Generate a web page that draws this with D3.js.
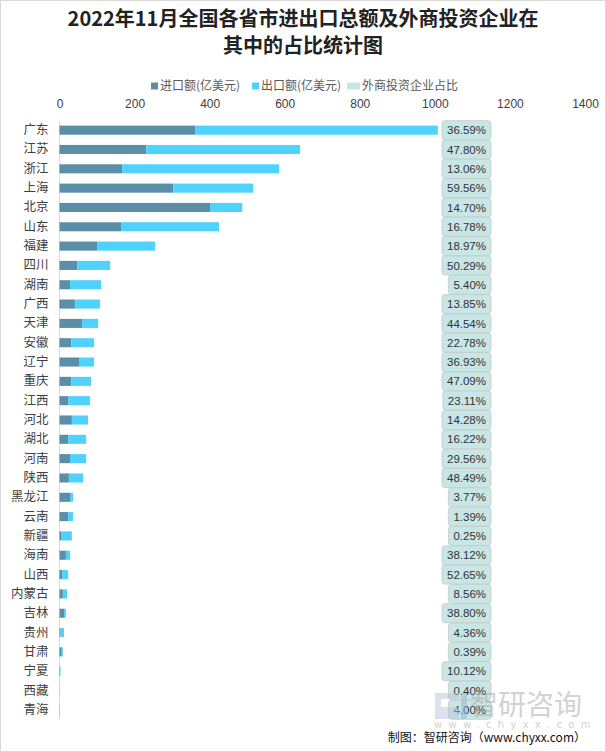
<!DOCTYPE html>
<html>
<head>
<meta charset="utf-8">
<script src="https://cdn.jsdelivr.net/npm/d3@7"></script>
<style>
    body { margin: 0; background: #fff; }
    svg { display: block; }
</style>
</head>
<body>
<svg id="chart" width="606" height="752"></svg>
<script>
// data
const provinces = ["广东", "江苏", "浙江", "上海", "北京", "山东", "福建", "四川", "湖南", "广西",
    "天津", "安徽", "辽宁", "重庆", "江西", "河北", "湖北", "河南", "陕西", "黑龙江",
    "云南", "新疆", "海南", "山西", "内蒙古", "吉林", "贵州", "甘肃", "宁夏", "西藏", "青海"];
const imports = [361, 231, 167, 303, 401, 164, 100, 47, 28, 41,
    60, 31, 52, 31, 23, 33, 23, 28, 25, 28,
    23, 4, 17, 7, 9, 12, 3, 6, 1, 0.3, 0.5];
const exports = [647, 410, 418, 213, 86, 261, 155, 88, 83, 67,
    43, 61, 40, 53, 58, 43, 48, 43, 38, 8,
    13, 29, 11, 16, 11, 5, 9, 3, 2, 0.2, 0.3];
const shares = [36.59, 47.80, 13.06, 59.56, 14.70, 16.78, 18.97, 50.29, 5.40, 13.85,
    44.54, 22.78, 36.93, 47.09, 23.11, 14.28, 16.22, 29.56, 48.49, 3.77,
    1.39, 0.25, 38.12, 52.65, 8.56, 38.80, 4.36, 0.39, 10.12, 0.40, 4.00];
const xTicks = [0, 200, 400, 600, 800, 1000, 1200, 1400];
const legendNames = ["进口额(亿美元)", "出口额(亿美元)", "外商投资企业占比"];

const colors = { imp: "#5b8fa8", exp: "#4fd2fd", share: "#c8e6e6" };
const cjk = "'Noto Sans CJK SC', 'Noto Sans', sans-serif";

// plot area
const plot = { left: 59.5, right: 585, top: 120.5, bottom: 719.5 };

const svg = d3.select("#chart");

// outer border
svg.append("rect")
    .attr("x", 0.5).attr("y", 0.5)
    .attr("width", 605).attr("height", 751)
    .attr("fill", "none")
    .attr("stroke", "#d9d9d9");

// title
svg.append("text")
    .attr("x", 303)
    .attr("text-anchor", "middle")
    .style("font-family", cjk)
    .style("font-weight", "bold")
    .style("font-size", "20px")
    .attr("fill", "#222")
    .selectAll("tspan")
    .data(["2022年11月全国各省市进出口总额及外商投资企业在", "其中的占比统计图"])
    .join("tspan")
    .attr("x", 303)
    .attr("y", (d, i) => 26 + i * 27)
    .text(d => d);

// scales
const x = d3.scaleLinear()
    .domain([0, 1400])
    .range([plot.left, plot.right]);

const y = d3.scaleBand()
    .domain(provinces)
    .range([plot.top, plot.bottom])
    .paddingInner(0.53)
    .paddingOuter(0.265);

// legend
const legendItems = [
    { name: legendNames[0], color: colors.imp, x: 151, w: 7 },
    { name: legendNames[1], color: colors.exp, x: 252, w: 7 },
    { name: legendNames[2], color: colors.share, x: 347, w: 13 }
];
const legend = svg.append("g");
legend.selectAll("rect")
    .data(legendItems)
    .join("rect")
    .attr("x", d => d.x)
    .attr("y", 82.5)
    .attr("width", d => d.w)
    .attr("height", 7)
    .attr("fill", d => d.color);
legend.selectAll("text")
    .data(legendItems)
    .join("text")
    .attr("x", d => d.x + d.w + 2)
    .attr("y", 86)
    .attr("dy", "0.35em")
    .style("font-family", cjk)
    .style("font-size", "12px")
    .attr("fill", "#595959")
    .text(d => d.name);

// x axis (top)
const xAxis = svg.append("g")
    .attr("transform", `translate(0,${plot.top})`)
    .call(d3.axisTop(x).tickValues(xTicks).tickFormat(d3.format("d")).tickSize(0).tickPadding(13));
xAxis.select(".domain").remove();
xAxis.selectAll("text")
    .style("font-family", "'Liberation Sans', Arial, sans-serif")
    .style("font-size", "12px")
    .attr("fill", "#404040");

// y axis
const yAxis = svg.append("g")
    .attr("transform", `translate(${plot.left},0)`)
    .call(d3.axisLeft(y).tickSize(0).tickPadding(11));
yAxis.select(".domain")
    .attr("stroke", "#d9d9d9")
    .attr("d", `M0,${plot.top}V${plot.bottom}`);
yAxis.selectAll("text")
    .style("font-family", cjk)
    .style("font-size", "12.5px")
    .attr("fill", "#404040");

// stacked bars
const rows = provinces.map((p, i) => ({ p, imp: imports[i], exp: exports[i], share: shares[i] }));

svg.append("g")
    .selectAll("rect")
    .data(rows)
    .join("rect")
    .attr("x", x(0))
    .attr("y", d => y(d.p))
    .attr("width", d => x(d.imp) - x(0))
    .attr("height", y.bandwidth())
    .attr("fill", colors.imp);

svg.append("g")
    .selectAll("rect")
    .data(rows)
    .join("rect")
    .attr("x", d => x(d.imp))
    .attr("y", d => y(d.p))
    .attr("width", d => x(d.imp + d.exp) - x(d.imp))
    .attr("height", y.bandwidth())
    .attr("fill", colors.exp);

// share labels in boxes
const labelRight = 486;
const labels = svg.append("g")
    .selectAll("g")
    .data(rows)
    .join("g")
    .attr("transform", d => `translate(0,${y(d.p) + y.bandwidth() / 2})`);

const boxes = labels.append("rect");
const labelText = labels.append("text")
    .attr("x", labelRight)
    .attr("dy", "0.36em")
    .attr("text-anchor", "end")
    .style("font-family", "'Liberation Sans', Arial, sans-serif")
    .style("font-size", "11.5px")
    .attr("fill", "#333")
    .text(d => d.share.toFixed(2) + "%");

labelText.each(function () {
    const w = this.getComputedTextLength();
    d3.select(this.previousSibling)
        .attr("x", labelRight - w - 5)
        .attr("y", -9.5)
        .attr("width", w + 10)
        .attr("height", 19)
        .attr("rx", 3)
        .attr("fill", colors.share)
        .attr("stroke", "#c8c8c8")
        .attr("stroke-width", 0.8);
});

// watermark
const wm = svg.append("g").attr("opacity", 0.5);
wm.append("path")
    .attr("d", "M435,693h24v6h-18v8h18v12h-24zM447,709h6v4h6v6h-12z")
    .attr("fill", "#b9c6dc");
wm.append("path")
    .attr("d", "M461,693h6v26h-6z")
    .attr("fill", "#9fb3d1");
wm.append("text")
    .attr("x", 470)
    .attr("y", 715)
    .style("font-family", cjk)
    .style("font-size", "28px")
    .attr("fill", "#a6a6a6")
    .text("智研咨询");
wm.append("text")
    .attr("x", 434)
    .attr("y", 728)
    .style("font-family", "'DejaVu Sans', sans-serif")
    .style("font-size", "10px")
    .style("letter-spacing", "6.3px")
    .attr("fill", "#a6a6a6")
    .text("www.chyxx.com");

// source
svg.append("text")
    .attr("x", 586)
    .attr("y", 742)
    .attr("text-anchor", "end")
    .style("font-family", cjk)
    .style("font-size", "12px")
    .attr("fill", "#111")
    .text("制图：智研咨询（www.chyxx.com）");
</script>
</body>
</html>
